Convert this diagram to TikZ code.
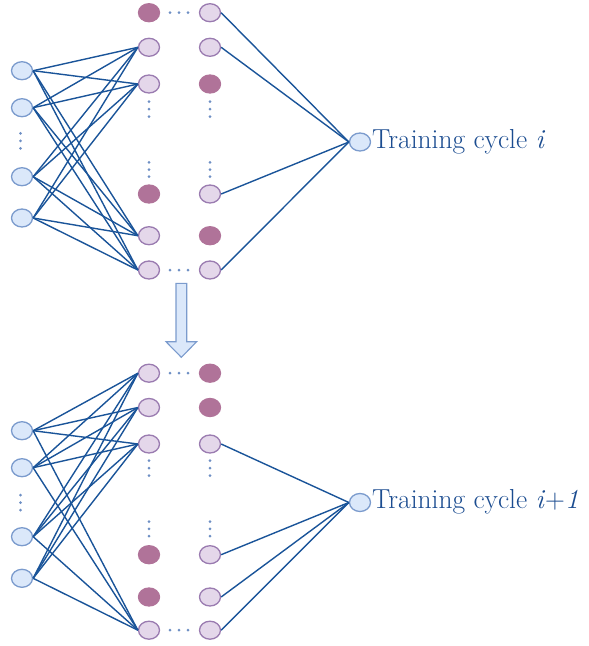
\documentclass[tikz,border=0pt]{standalone}
\usetikzlibrary{shapes.geometric}
\definecolor{lnk}{HTML}{1A5499}
\definecolor{bfill}{HTML}{DBE8FA}
\definecolor{bstroke}{HTML}{7B9BCD}
\definecolor{pfill}{HTML}{E4D7EA}
\definecolor{pstroke}{HTML}{9A7BB0}
\definecolor{dkfill}{HTML}{B07399}
\definecolor{dotcol}{HTML}{6E8FC4}
\definecolor{txtcol}{HTML}{1B4C90}
\begin{document}
\begin{tikzpicture}[x=1pt,y=-1pt,
  nd/.style={ellipse, minimum width=21pt, minimum height=18pt, inner sep=0pt, line width=1.3pt},
  inp/.style={nd, draw=bstroke, fill=bfill},
  lt/.style={nd, draw=pstroke, fill=pfill},
  dk/.style={nd, draw=dkfill, fill=dkfill},
  link/.style={draw=lnk, line width=1.4pt},
  dotc/.style={fill=dotcol},
  txt/.style={text=txtcol, font=\fontsize{27.5}{33}\selectfont, inner sep=0pt, anchor=base west},
  bigarrow/.style={draw=bstroke, fill=bfill, line width=1.1pt, line join=miter}]
\useasboundingbox (0,0) rectangle (589,646);

% ---------- top block ----------
\foreach \n/\y in {1/70.7,2/107.7,3/176.7,4/218}
  \node[inp] (ti\n) at (22,\y) {};
\foreach \n/\y/\s in {1/12.7/dk,2/47.3/lt,3/84/lt,6/194/dk,7/235.7/lt,8/270/lt}
  \node[\s] (ta\n) at (149,\y) {};
\foreach \n/\y/\s in {1/12.7/lt,2/47.3/lt,3/84/dk,6/194/lt,7/235.7/dk,8/270/lt}
  \node[\s] (tb\n) at (210,\y) {};
\node[inp] (to) at (360,142) {};
\node[txt] (tl) at (372,148) {Training cycle \textit{i}};

\foreach \i in {1,...,4}
  \foreach \j in {2,3,7,8}
    \draw[link] (ti\i.east) -- (ta\j.west);
\foreach \j in {1,2,6,8}
  \draw[link] (tb\j.east) -- (to.west);

\foreach \x in {170,179,188} {
  \fill[dotc] (\x,12.7) circle (1.5);
  \fill[dotc] (\x,270) circle (1.5);
}
\foreach \y in {101.7,109.2,116.7,162.3,169.5,176.7} {
  \fill[dotc] (149,\y) circle (1.5);
  \fill[dotc] (210,\y) circle (1.5);
}
\foreach \y in {133.3,140.8,148.3}
  \fill[dotc] (20.5,\y) circle (1.5);

% ---------- arrow ----------
\draw[bigarrow] (176,283.3) -- (186.7,283.3) -- (186.7,341.7) -- (196.7,341.7)
  -- (181.3,357.3) -- (166,341.7) -- (176,341.7) -- cycle;

% ---------- bottom block ----------
\foreach \n/\y in {1/430.7,2/467.7,3/536.7,4/578.3}
  \node[inp] (bi\n) at (22,\y) {};
\foreach \n/\y/\s in {1/373.2/lt,2/407.5/lt,3/444/lt,6/554.7/dk,7/597/dk,8/630.2/lt}
  \node[\s] (ba\n) at (149,\y) {};
\foreach \n/\y/\s in {1/373.2/dk,2/407.5/dk,3/444/lt,6/554.7/lt,7/597/lt,8/630.2/lt}
  \node[\s] (bb\n) at (210,\y) {};
\node[inp] (bo) at (360,502.5) {};
\node[txt] (bl) at (372,508.5) {Training cycle \textit{i}+\textit{1}};

\foreach \i in {1,...,4}
  \foreach \j in {1,2,3,8}
    \draw[link] (bi\i.east) -- (ba\j.west);
\foreach \j in {3,6,7,8}
  \draw[link] (bb\j.east) -- (bo.west);

\foreach \x in {170,179,188} {
  \fill[dotc] (\x,373.2) circle (1.5);
  \fill[dotc] (\x,630.2) circle (1.5);
}
\foreach \y in {460.5,468,475.5,521.7,528.9,536} {
  \fill[dotc] (149,\y) circle (1.5);
  \fill[dotc] (210,\y) circle (1.5);
}
\foreach \y in {495,502.5,510}
  \fill[dotc] (20.5,\y) circle (1.5);
\end{tikzpicture}
\end{document}
